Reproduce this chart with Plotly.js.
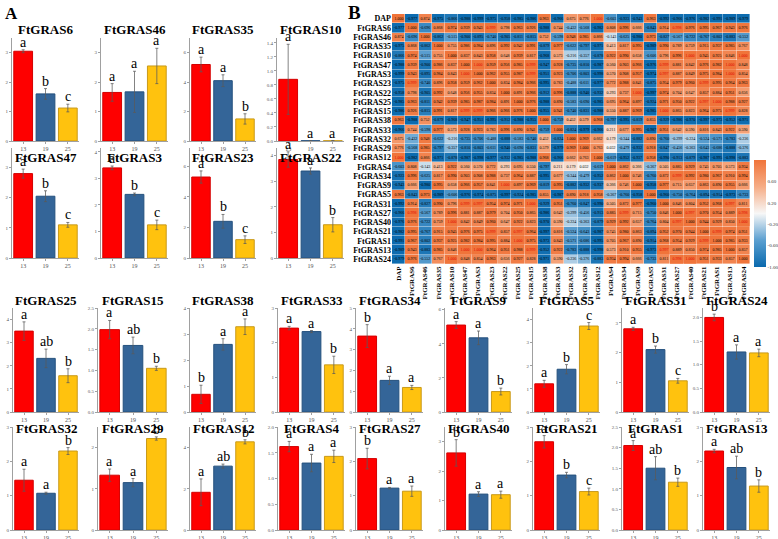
<!DOCTYPE html>
<html>
<head>
<meta charset="utf-8">
<script src="https://cdn.plot.ly/plotly-3.0.1.min.js"></script>
<style>
  html, body { margin: 0; padding: 0; background: #fff; }
  #chart { width: 778px; height: 539px; }
</style>
</head>
<body>
<div id="chart"></div>
<script>
// --- A: relative expression of FtGRAS genes at 13, 19 and 25 DAP ---
const dap = ['13', '19', '25'];

const genes = [
  'FtGRAS6', 'FtGRAS46', 'FtGRAS35', 'FtGRAS10',
  'FtGRAS47', 'FtGRAS3', 'FtGRAS23', 'FtGRAS22',
  'FtGRAS25', 'FtGRAS15', 'FtGRAS38', 'FtGRAS33', 'FtGRAS34', 'FtGRAS9', 'FtGRAS5', 'FtGRAS31', 'FtGRAS24',
  'FtGRAS32', 'FtGRAS29', 'FtGRAS12', 'FtGRAS4', 'FtGRAS27', 'FtGRAS40', 'FtGRAS21', 'FtGRAS1', 'FtGRAS13'
];

const mean13 = [3.05, 1.65, 5.2, 0.88,  2.8, 3.4, 5.3, 3.85,  3.5, 1.98, 0.68, 2.42, 3.65, 5.1, 1.22, 2.8, 2.0,  1.45, 1.33, 1.83, 1.62, 2.08, 2.62, 2.57, 2.05, 2.3];
const mean19 = [1.6, 1.67, 4.1, 0.004,  2.05, 2.4, 2.4, 3.4,  2.32, 1.6, 2.6, 2.32, 1.52, 4.35, 1.85, 2.1, 1.27,  1.07, 1.15, 3.1, 1.3, 1.22, 1.22, 1.6, 1.5, 1.82];
const mean25 = [1.12, 2.55, 1.5, 0.004,  1.1, 1.25, 1.2, 1.3,  1.57, 1.05, 3.28, 1.36, 1.18, 1.2, 3.72, 1.05, 1.25,  2.3, 2.22, 4.28, 1.43, 1.13, 1.2, 1.12, 1.16, 1.28];

const sd13 = [0.05, 0.3, 0.5, 0.5,  0.15, 0.07, 0.4, 0.3,  0.4, 0.22, 0.35, 0.05, 0.55, 0.2, 0.15, 0.05, 0.07,  0.32, 0.15, 0.65, 0.1, 0.3, 0.45, 0.18, 0.12, 0.05];
const sd19 = [0.18, 0.7, 0.4, 0,  0.18, 0.05, 0.45, 0.12,  0.4, 0.2, 0.22, 0.03, 0.2, 0.4, 0.2, 0.12, 0.15,  0.03, 0.1, 0.1, 0.17, 0.02, 0.08, 0.08, 0.28, 0.33];
const sd25 = [0.13, 0.6, 0.35, 0,  0.08, 0.18, 0.25, 0.28,  0.3, 0.05, 0.3, 0.25, 0.1, 0.2, 0.15, 0.08, 0.08,  0.1, 0.04, 0.1, 0.12, 0.15, 0.12, 0.1, 0.1, 0.18];

const sig13 = ['a', 'a', 'a', 'a',  'a', 'a', 'a', 'a',  'a', 'a', 'b', 'a', 'b', 'a', 'a', 'a', 'b',  'a', 'a', 'a', 'a', 'b', 'b', 'a', 'a', 'a'];
const sig19 = ['b', 'a', 'a', 'a',  'b', 'b', 'b', 'a',  'ab', 'ab', 'a', 'a', 'a', 'a', 'b', 'b', 'a',  'a', 'a', 'ab', 'a', 'a', 'a', 'b', 'ab', 'ab'];
const sig25 = ['c', 'a', 'b', 'a',  'c', 'c', 'c', 'b',  'b', 'b', 'a', 'b', 'a', 'b', 'c', 'c', 'a',  'b', 'b', 'b', 'a', 'a', 'a', 'c', 'b', 'b'];

// --- B: correlation matrix ---
const heatLabels = ['DAP', 'FtGRAS6', 'FtGRAS46', 'FtGRAS35', 'FtGRAS10', 'FtGRAS47', 'FtGRAS3', 'FtGRAS23', 'FtGRAS22',
  'FtGRAS25', 'FtGRAS15', 'FtGRAS38', 'FtGRAS33', 'FtGRAS32', 'FtGRAS29', 'FtGRAS12', 'FtGRAS4', 'FtGRAS34', 'FtGRAS9',
  'FtGRAS5', 'FtGRAS31', 'FtGRAS27', 'FtGRAS40', 'FtGRAS21', 'FtGRAS1', 'FtGRAS13', 'FtGRAS24'];

const corr = [
  [1.000, -0.977, 0.874, -0.975, -0.866, -0.988, -0.999, -0.975, -0.958, -0.985, -0.986, 0.963, -0.966, 0.675, 0.776, 1.000, -0.603, -0.923, -0.943, 0.963, -0.992, -0.966, -0.976, -0.982, -0.991, -0.989, -0.979],
  [-0.977, 1.000, -0.696, 0.868, 0.974, 0.939, 0.943, 0.999, 0.798, 0.963, 0.926, -0.988, 0.744, -0.432, -0.568, -0.982, 0.808, 0.996, 0.666, -0.843, 0.914, 0.998, 0.976, 0.995, 0.967, 0.943, 0.976],
  [0.874, -0.696, 1.000, -0.862, -0.515, -0.900, -0.895, -0.740, -0.905, -0.811, -0.815, 0.752, -0.598, 0.948, 0.985, 0.866, -0.143, -0.625, -0.980, 0.973, -0.827, -0.567, -0.722, -0.767, -0.802, -0.883, -0.552],
  [-0.975, 0.868, -0.862, 1.000, 0.755, 0.986, 0.984, 0.896, 0.992, 0.942, 0.991, -0.879, 0.977, -0.622, -0.797, -0.971, 0.413, 0.817, 0.995, -0.989, 0.990, 0.789, 0.759, 0.915, 0.937, 0.985, 0.767],
  [-0.866, 0.974, -0.515, 0.755, 1.000, 0.837, 0.843, 0.958, 0.648, 0.939, 0.817, -0.968, 0.573, -0.216, -0.357, -0.878, 0.922, 0.990, 0.658, -0.606, 0.796, 0.996, 1.000, 0.945, 0.925, 0.846, 1.000],
  [-0.988, 0.939, -0.900, 0.986, 0.837, 1.000, 1.000, 0.959, 0.956, 0.985, 0.999, -0.947, 0.928, -0.735, -0.810, -0.987, 0.560, 0.903, 0.966, -0.976, 0.999, 0.881, 0.842, 0.976, 0.982, 1.000, 0.848],
  [-0.999, 0.943, -0.895, 0.984, 0.843, 1.000, 1.000, 0.962, 0.955, 0.987, 0.999, -0.951, 0.923, -0.706, -0.803, -0.998, 0.570, 0.908, 0.957, -0.974, 0.997, 0.887, 0.849, 0.975, 0.984, 1.000, 0.854],
  [-0.975, 0.999, -0.740, 0.896, 0.958, 0.959, 0.962, 1.000, 0.834, 0.984, 0.966, -0.995, 0.783, -0.488, -0.611, -0.977, 0.772, 0.988, 0.841, -0.875, 0.954, 0.979, 0.960, 0.999, 0.995, 0.964, 0.963],
  [-0.958, 0.798, -0.905, 0.992, 0.648, 0.956, 0.955, 0.834, 1.000, 0.891, 0.966, -0.912, 0.996, -0.888, -0.940, -0.932, 0.293, 0.737, 1.000, -0.997, 0.974, 0.704, 0.647, 0.857, 0.884, 0.951, 0.656],
  [-0.985, 0.963, -0.811, 0.942, 0.939, 0.985, 0.987, 0.984, 0.891, 1.000, 0.976, -0.988, 0.890, -0.583, -0.690, -0.985, 0.695, 0.964, 0.897, -0.924, 0.971, 0.950, 0.922, 0.997, 1.000, 0.988, 0.927],
  [-0.986, 0.926, -0.815, 0.991, 0.817, 0.999, 0.999, 0.966, 0.966, 0.976, 1.000, -0.955, 0.941, -0.740, -0.831, -0.988, 0.550, 0.887, 0.969, -0.985, 1.000, 0.865, 0.823, 0.964, 0.975, 0.999, 0.828],
  [0.963, -0.988, 0.752, -0.879, -0.968, -0.947, -0.951, -0.995, -0.912, -0.988, -0.955, 1.000, -0.759, 0.452, 0.579, 0.968, -0.797, -0.995, -0.819, 0.855, -0.929, -0.986, -0.970, -0.997, -0.973, -0.952, -0.971],
  [-0.966, 0.744, -0.598, 0.977, 0.573, 0.928, 0.923, 0.783, 0.996, 0.890, 0.941, -0.759, 1.000, -0.824, -0.979, -0.966, 0.211, 0.677, 0.995, -0.987, 0.951, 0.642, 0.590, 0.816, 0.843, 0.922, 0.590],
  [0.675, -0.432, 0.948, -0.622, -0.216, -0.735, -0.706, -0.488, -0.888, -0.583, -0.740, 0.452, -0.824, 1.000, 0.969, 0.662, 0.179, -0.344, -0.882, 0.890, -0.760, -0.299, -0.224, -0.524, -0.571, -0.783, -0.236],
  [0.776, -0.568, 0.985, -0.797, -0.357, -0.810, -0.803, -0.611, -0.940, -0.690, -0.831, 0.579, -0.979, 0.969, 1.000, 0.763, 0.032, -0.479, -0.932, 0.918, -0.847, -0.456, -0.363, -0.643, -0.686, -0.888, -0.376],
  [1.000, -0.982, 0.866, -0.971, -0.878, -0.987, -0.998, -0.977, -0.932, -0.985, -0.988, 0.968, -0.966, 0.662, 0.763, 1.000, -0.619, -0.952, -0.937, 0.958, -0.990, -0.913, -0.879, -0.987, -0.995, -0.998, -0.883],
  [-0.603, 0.808, -0.143, 0.413, 0.922, 0.560, 0.570, 0.772, 0.293, 0.695, 0.550, -0.797, 0.211, 0.179, 0.032, -0.619, 1.000, 0.862, 0.366, -0.367, 0.505, 0.885, 0.929, 0.745, 0.705, 0.573, 0.934],
  [-0.923, 0.996, -0.625, 0.817, 0.990, 0.903, 0.908, 0.988, 0.737, 0.964, 0.887, -0.995, 0.677, -0.344, -0.479, -0.952, 0.862, 1.000, 0.746, -0.760, 0.872, 0.999, 0.992, 0.980, 0.967, 0.910, 0.994],
  [-0.943, 0.666, -0.980, 0.995, 0.658, 0.966, 0.957, 0.841, 1.000, 0.897, 0.969, -0.819, 0.995, -0.882, -0.932, -0.937, 0.366, 0.746, 1.000, -0.958, 0.977, 0.715, 0.657, 0.863, 0.890, 0.955, 0.666],
  [0.963, -0.843, 0.973, -0.989, -0.606, -0.976, -0.974, -0.875, -0.997, -0.924, -0.985, 0.855, -0.987, 0.890, 0.918, 0.958, -0.367, -0.760, -0.958, 1.000, -0.960, -0.750, -0.764, -0.894, -0.914, -0.973, -0.733],
  [-0.992, 0.914, -0.827, 0.990, 0.796, 0.999, 0.997, 0.954, 0.974, 0.971, 1.000, -0.929, 0.951, -0.760, -0.847, -0.990, 0.505, 0.872, 0.977, -0.960, 1.000, 0.846, 0.804, 0.952, 0.968, 0.997, 0.811],
  [-0.966, 0.998, -0.567, 0.789, 0.996, 0.881, 0.887, 0.979, 0.704, 0.950, 0.865, -0.986, 0.642, -0.299, -0.456, -0.913, 0.885, 0.999, 0.715, -0.750, 0.846, 1.000, 0.997, 0.970, 0.954, 0.889, 0.998],
  [-0.976, 0.976, -0.722, 0.759, 1.000, 0.842, 0.849, 0.960, 0.647, 0.922, 0.823, -0.970, 0.590, -0.224, -0.363, -0.879, 0.929, 0.992, 0.657, -0.764, 0.804, 0.997, 1.000, 0.944, 0.929, 0.850, 1.000],
  [-0.982, 0.995, -0.767, 0.915, 0.945, 0.976, 0.975, 0.999, 0.857, 0.997, 0.964, -0.997, 0.816, -0.524, -0.643, -0.987, 0.745, 0.980, 0.863, -0.894, 0.952, 0.970, 0.944, 1.000, 0.999, 0.974, 0.951],
  [-0.991, 0.967, -0.802, 0.937, 0.925, 0.982, 0.984, 0.995, 0.884, 1.000, 0.975, -0.973, 0.843, -0.571, -0.686, -0.995, 0.705, 0.967, 0.890, -0.914, 0.968, 0.954, 0.929, 0.999, 1.000, 0.985, 0.933],
  [-0.989, 0.943, -0.883, 0.985, 0.846, 1.000, 1.000, 0.964, 0.951, 0.988, 0.999, -0.952, 0.922, -0.783, -0.888, -0.998, 0.573, 0.910, 0.955, -0.973, 0.997, 0.889, 0.850, 0.974, 0.985, 1.000, 0.857],
  [-0.979, 0.976, -0.552, 0.767, 1.000, 0.848, 0.854, 0.963, 0.656, 0.927, 0.828, -0.971, 0.590, -0.236, -0.376, -0.883, 0.934, 0.994, 0.666, -0.733, 0.811, 0.998, 1.000, 0.951, 0.933, 0.857, 1.000]
];

// --- layout helpers (pixel positions) ---
const W = 778, H = 539;
const px = v => v / W;
const py = v => 1 - v / H;
const SERIF = 'Liberation Serif, Times New Roman, serif';

const topCols = [[12, 79], [101, 168], [190, 256], [277, 344]];
const bottomCols = [[13, 79], [98, 168], [190, 256], [278, 345], [356, 423], [445, 512], [533, 600], [622, 689], [703, 770]];
const rowsPx = [[38, 141], [148, 258], [308, 412], [427, 530]];
const titleY = [29, 157, 300, 428];

const yTop = [3.5, 3.5, 7, 1.47,  3.65, 4.15, 7.2, 4.3,  4.5, 2.5, 4, 3, 5, 6.1, 4.5, 3.5, 2.2,  3, 2.5, 5, 2, 3, 3.5, 3, 2.5, 3];
const yStep = [1, 1, 2, 0.2,  1, 1, 2, 1,  1, 0.5, 1, 1, 1, 2, 1, 1, 0.5,  1, 1, 2, 0.5, 1, 1, 1, 0.5, 1];

const barFill = ['#fe0000', '#346598', '#ffc20e'];
const barEdge = ['#d40000', '#24507d', '#c99a1a'];

const traces = [];
const annotations = [];
const layout = {
  width: W, height: H,
  margin: { l: 0, r: 0, t: 0, b: 0 },
  paper_bgcolor: '#fff', plot_bgcolor: 'rgba(0,0,0,0)',
  showlegend: false,
  font: { family: SERIF, color: '#000' }
};

// --- bar panels ---
genes.forEach((g, k) => {
  let row, col;
  if (k < 4) { row = 0; col = topCols[k]; }
  else if (k < 8) { row = 1; col = topCols[k - 4]; }
  else if (k < 17) { row = 2; col = bottomCols[k - 8]; }
  else { row = 3; col = bottomCols[k - 17]; }
  const n = k + 2;
  const means = [mean13[k], mean19[k], mean25[k]];
  const sds = [sd13[k], sd19[k], sd25[k]];
  const sig = [sig13[k], sig19[k], sig25[k]];

  traces.push({
    type: 'bar', x: dap, y: means,
    xaxis: 'x' + n, yaxis: 'y' + n,
    width: 0.84,
    marker: { color: barFill, line: { color: barEdge, width: 1 } },
    error_y: { type: 'data', array: sds, visible: true, color: 'rgba(90,90,90,0.75)', thickness: 1, width: 1.5 },
    hoverinfo: 'skip'
  });

  layout['xaxis' + n] = {
    domain: [px(col[0]), px(col[1])], anchor: 'y' + n, type: 'category',
    range: [-0.5, 2.5], autorange: false,
    showline: true, linecolor: '#a0a0a0', linewidth: 1,
    ticks: 'outside', ticklen: 2, tickcolor: '#a0a0a0',
    tickfont: { family: SERIF, size: 6, color: '#555' },
    showgrid: false, zeroline: false, fixedrange: true
  };
  layout['yaxis' + n] = {
    domain: [py(rowsPx[row][1]), py(rowsPx[row][0])], anchor: 'x' + n,
    range: [0, yTop[k]], autorange: false, dtick: yStep[k], tick0: 0,
    tickformat: yStep[k] < 1 ? '.1f' : 'd',
    showline: true, linecolor: '#a0a0a0', linewidth: 1,
    ticks: 'outside', ticklen: 2, tickcolor: '#a0a0a0',
    tickfont: { family: SERIF, size: 5, color: '#555' },
    showgrid: false, zeroline: false, fixedrange: true
  };

  annotations.push({
    xref: 'paper', yref: 'paper', x: px((col[0] + col[1]) / 2), y: py(titleY[row]),
    text: '<b>' + g + '</b>', showarrow: false, xanchor: 'center', yanchor: 'middle',
    font: { family: SERIF, size: 13, color: '#000' }
  });

  sig.forEach((s, i) => {
    annotations.push({
      xref: 'x' + n, yref: 'y' + n, x: i, y: means[i] + sds[i],
      text: s, showarrow: false, yanchor: 'bottom', yshift: -2,
      font: { family: SERIF, size: 14, color: '#000' }
    });
  });
});

// --- heatmap (B) ---
const txtBlack = corr.map((r, i) => r.map((v, j) => (i !== j && v >= 0.997) ? '' : v.toFixed(3)));
const txtRed = corr.map((r, i) => r.map((v, j) => (i !== j && v >= 0.997) ? v.toFixed(3) : ''));
const zRed = corr.map((r, i) => r.map((v, j) => (i !== j && v >= 0.997) ? v : null));

const heatScale = [
  [0, '#0a6aae'], [0.25, '#5b9fd0'], [0.5, '#f7f7f7'], [0.75, '#f6ac85'], [1, '#f0743a']
];

traces.push({
  type: 'heatmap', z: corr, x: heatLabels, y: heatLabels,
  xaxis: 'x', yaxis: 'y', zmin: -1, zmax: 1,
  colorscale: heatScale, xgap: 0.4, ygap: 0.4,
  text: txtBlack, texttemplate: '%{text}',
  textfont: { family: SERIF, size: 4, color: '#000' },
  hoverinfo: 'skip',
  colorbar: {
    x: px(754), xanchor: 'left', y: py(267), yanchor: 'bottom',
    len: 107, lenmode: 'pixels', thickness: 12, thicknessmode: 'pixels',
    tickvals: [-1, -0.6, -0.2, 0.2, 0.6], ticktext: ['-1.00', '-0.60', '-0.20', '0.20', '0.60'],
    tickfont: { family: SERIF, size: 5, color: '#333' },
    ticks: '', outlinewidth: 0, xpad: 0, ypad: 0
  }
});
traces.push({
  type: 'heatmap', z: zRed, x: heatLabels, y: heatLabels,
  xaxis: 'x', yaxis: 'y', zmin: -1, zmax: 1,
  colorscale: heatScale, showscale: false, xgap: 0.4, ygap: 0.4,
  text: txtRed, texttemplate: '%{text}',
  textfont: { family: SERIF, size: 4, color: '#e00000' },
  hoverinfo: 'skip'
});

layout.xaxis = {
  domain: [px(392), px(750)], anchor: 'y', type: 'category', tickangle: -90,
  tickmode: 'array', tickvals: heatLabels, ticktext: heatLabels,
  tickfont: { family: SERIF, size: 7, color: '#000', weight: 'bold' },
  ticks: '', showgrid: false, zeroline: false, fixedrange: true
};
layout.yaxis = {
  domain: [py(264), py(14)], anchor: 'x', type: 'category', autorange: 'reversed',
  tickmode: 'array', tickvals: heatLabels, ticktext: heatLabels,
  tickfont: { family: SERIF, size: 8, color: '#000', weight: 'bold' },
  ticks: '', showgrid: false, zeroline: false, fixedrange: true
};

// panel letters
annotations.push({ xref: 'paper', yref: 'paper', x: px(3), y: py(2), xanchor: 'left', yanchor: 'top',
  text: '<b>A</b>', showarrow: false, font: { family: SERIF, size: 17, color: '#000' } });
annotations.push({ xref: 'paper', yref: 'paper', x: px(346), y: py(0), xanchor: 'left', yanchor: 'top',
  text: '<b>B</b>', showarrow: false, font: { family: SERIF, size: 19, color: '#000' } });

layout.annotations = annotations;

Plotly.newPlot('chart', traces, layout, { displayModeBar: false, staticPlot: true });
</script>
</body>
</html>
